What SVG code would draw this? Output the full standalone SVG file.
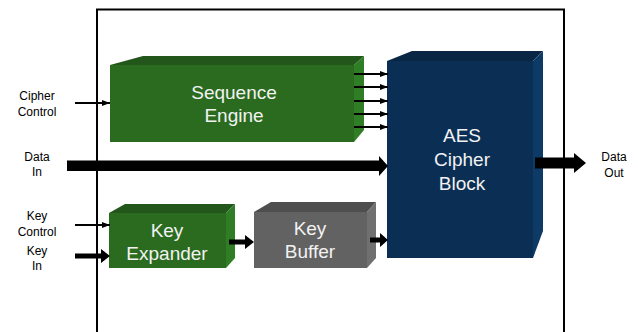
<svg xmlns="http://www.w3.org/2000/svg" width="638" height="332" viewBox="0 0 638 332">
  <style>
    .lbl { font-family: "Liberation Sans", Arial, sans-serif; font-size: 12px; fill: #000; text-anchor: middle; }
    .blk { font-family: "Liberation Sans", Arial, sans-serif; font-size: 19px; fill: #f2f2f2; text-anchor: middle; }
    .gFront { fill: #2a6b1f; }
    .gTop { fill: #23561a; }
    .gSide { fill: #2f7d24; }
    .bFront { fill: #0b2f54; }
    .bTop { fill: #092744; }
    .bSide { fill: #0e3a66; }
    .kFront { fill: #626262; }
    .kTop { fill: #4e4e4e; }
    .kSide { fill: #707070; }
    .thin { stroke: #000; stroke-width: 2; fill: none; }
  </style>
  <defs>
    <marker id="smallHead" markerWidth="8" markerHeight="6" refX="8" refY="3" orient="auto" markerUnits="userSpaceOnUse">
      <polygon points="0,0 8,3 0,6" fill="#000"/>
    </marker>
  </defs>

  <rect width="638" height="332" fill="#fff"/>

  <!-- enclosing boundary -->
  <path d="M97,340 V9.5 H564 V340" fill="none" stroke="#000" stroke-width="2"/>

  <g id="labels">
    <text class="lbl" x="37" y="100">Cipher</text>
    <text class="lbl" x="37" y="116">Control</text>
    <text class="lbl" x="37" y="161">Data</text>
    <text class="lbl" x="37" y="176">In</text>
    <text class="lbl" x="37" y="220">Key</text>
    <text class="lbl" x="37" y="236">Control</text>
    <text class="lbl" x="37" y="255">Key</text>
    <text class="lbl" x="37" y="270">In</text>
    <text class="lbl" x="614" y="161">Data</text>
    <text class="lbl" x="614" y="177">Out</text>
  </g>

  <g id="sequence-engine">
    <polygon class="gTop" points="110,65 143,56 364,56 354,65"/>
    <polygon class="gSide" points="354,65 364,56 364,130 354,142"/>
    <rect class="gFront" x="110" y="65" width="244" height="77"/>
    <text class="blk" x="234" y="99">Sequence</text>
    <text class="blk" x="234" y="122">Engine</text>
  </g>

  <g id="aes-cipher-block">
    <polygon class="bTop" points="387,61 412,51 543,51 533,61"/>
    <polygon class="bSide" points="533,61 543,51 543,231 533,258"/>
    <rect class="bFront" x="387" y="61" width="146" height="197"/>
    <text class="blk" x="462" y="142">AES</text>
    <text class="blk" x="462" y="166">Cipher</text>
    <text class="blk" x="462" y="190">Block</text>
  </g>

  <g id="key-expander">
    <polygon class="gTop" points="109,213 125,204 235,204 226,213"/>
    <polygon class="gSide" points="226,213 235,204 235,258 226,268"/>
    <rect class="gFront" x="109" y="213" width="117" height="55"/>
    <text class="blk" x="167" y="237">Key</text>
    <text class="blk" x="167" y="260">Expander</text>
  </g>

  <g id="key-buffer">
    <polygon class="kTop" points="254,212 271,202 376,202 367,212"/>
    <polygon class="kSide" points="367,212 376,202 376,258 367,268"/>
    <rect class="kFront" x="254" y="212" width="113" height="56"/>
    <text class="blk" x="310" y="235">Key</text>
    <text class="blk" x="310" y="258">Buffer</text>
  </g>

  <g id="connectors">
    <!-- control inputs -->
    <line class="thin" x1="75" y1="103" x2="110" y2="103" marker-end="url(#smallHead)"/>
    <line class="thin" x1="75" y1="225" x2="110" y2="225" marker-end="url(#smallHead)"/>
    <!-- key input -->
    <polygon points="75,253.5 101,253.5 101,249 110,256 101,263 101,258.5 75,258.5" fill="#000"/>
    <!-- sequence engine to cipher block -->
    <line class="thin" x1="354" y1="74" x2="388" y2="74" marker-end="url(#smallHead)"/>
    <line class="thin" x1="354" y1="87" x2="388" y2="87" marker-end="url(#smallHead)"/>
    <line class="thin" x1="354" y1="101" x2="388" y2="101" marker-end="url(#smallHead)"/>
    <line class="thin" x1="354" y1="114" x2="388" y2="114" marker-end="url(#smallHead)"/>
    <line class="thin" x1="354" y1="127" x2="388" y2="127" marker-end="url(#smallHead)"/>
    <!-- data path -->
    <polygon points="67,160.5 379,160.5 379,156 388,166 379,176 379,171 67,171" fill="#000"/>
    <polygon points="535,157.5 574,157.5 574,153 586,163 574,173 574,168.5 535,168.5" fill="#000"/>
    <!-- key path -->
    <polygon points="229,239.5 245,239.5 245,235 254,242 245,249 245,244.5 229,244.5" fill="#000"/>
    <polygon points="370,237.5 380,237.5 380,233 388,240 380,247 380,242.5 370,242.5" fill="#000"/>
  </g>
</svg>
